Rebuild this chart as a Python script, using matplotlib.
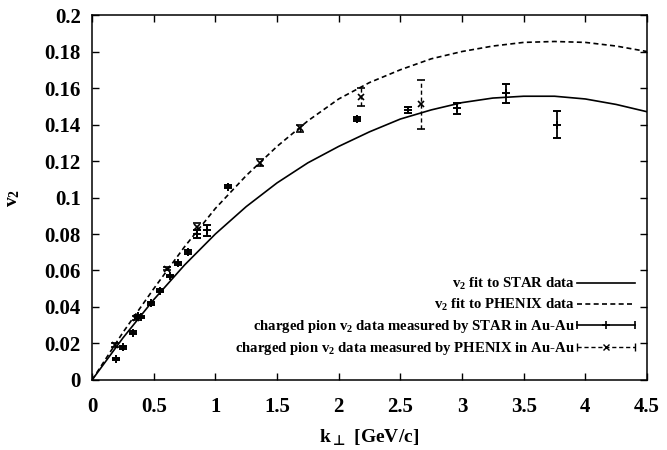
import matplotlib
matplotlib.use("Agg")
import matplotlib.pyplot as plt
from matplotlib.lines import Line2D
from matplotlib.legend_handler import HandlerLine2D

# Fit curves
fit_k = [0.0, 0.25, 0.5, 0.75, 1.0, 1.25, 1.5, 1.75, 2.0, 2.25, 2.5, 2.75,
         3.0, 3.25, 3.5, 3.75, 4.0, 4.25, 4.5]
star_fit = [0.0, 0.023, 0.044, 0.063, 0.080, 0.095, 0.108, 0.119, 0.128, 0.136,
            0.143, 0.148, 0.152, 0.1545, 0.1555, 0.1555, 0.154, 0.151, 0.147]
phenix_fit = [0.0, 0.026, 0.050, 0.073, 0.094, 0.112, 0.128, 0.142, 0.154, 0.163,
              0.170, 0.176, 0.180, 0.183, 0.185, 0.1855, 0.185, 0.183, 0.180]

# STAR data
star_k = [0.195, 0.25, 0.33, 0.37, 0.40, 0.48, 0.55, 0.63, 0.70, 0.78, 0.85, 0.93,
          1.10, 2.15, 2.56, 2.96, 3.36, 3.77]
star_v = [0.0115, 0.018, 0.026, 0.035, 0.0345, 0.042, 0.049, 0.057, 0.064, 0.070,
          0.080, 0.082, 0.106, 0.143, 0.148, 0.149, 0.157, 0.140]
star_err = [0.0008, 0.0008, 0.0008, 0.0008, 0.0008, 0.0008, 0.0008, 0.0008, 0.0008,
            0.001, 0.002, 0.003, 0.001, 0.001, 0.0015, 0.003, 0.005, 0.0075]

# PHENIX data
phenix_k = [0.19, 0.36, 0.61, 0.85, 1.36, 1.69, 2.18, 2.67]
phenix_v = [0.019, 0.034, 0.061, 0.084, 0.119, 0.138, 0.155, 0.151]
phenix_err = [0.001, 0.001, 0.001, 0.002, 0.002, 0.002, 0.005, 0.0135]

xticks = [0, 0.5, 1, 1.5, 2, 2.5, 3, 3.5, 4, 4.5]
xticklabels = ['0', '0.5', '1', '1.5', '2', '2.5', '3', '3.5', '4', '4.5']
yticks = [0, 0.02, 0.04, 0.06, 0.08, 0.1, 0.12, 0.14, 0.16, 0.18, 0.2]
yticklabels = ['0', '0.02', '0.04', '0.06', '0.08', '0.1', '0.12', '0.14', '0.16', '0.18', '0.2']

plt.rcParams['font.family'] = ['Liberation Serif', 'DejaVu Serif']
plt.rcParams['font.weight'] = 'bold'
plt.rcParams['mathtext.fontset'] = 'custom'
plt.rcParams['mathtext.rm'] = 'Liberation Serif:bold'
plt.rcParams['mathtext.it'] = 'Liberation Serif:bold'
plt.rcParams['mathtext.bf'] = 'Liberation Serif:bold'

fig = plt.figure(figsize=(6.67, 4.5), dpi=100)
ax = fig.add_axes([0.138, 0.1556, 0.832, 0.811])

dash = (0, (3, 2))
ax.plot(fit_k, star_fit, color='black', lw=1.2)
ax.plot(fit_k, phenix_fit, color='black', lw=1.2, linestyle=dash)
ax.errorbar(star_k, star_v, yerr=star_err, fmt='+', color='black', ms=6, mew=1.4,
            ecolor='black', elinewidth=1.3, capsize=3, capthick=1.3)
e2 = ax.errorbar(phenix_k, phenix_v, yerr=phenix_err, fmt='x', color='black', ms=5,
                 mew=1.2, ecolor='black', elinewidth=1.0, capsize=3, capthick=1.0)
e2[2][0].set_linestyle((0, (3, 2)))

ax.set_xlim(0, 4.5)
ax.set_ylim(0, 0.2)
ax.set_xticks(xticks)
ax.set_xticklabels(xticklabels)
ax.set_yticks(yticks)
ax.set_yticklabels(yticklabels)
ax.tick_params(direction='in', top=True, right=True, length=5, width=1,
               labelsize=15)
ax.tick_params(axis='y', pad=8)
ax.tick_params(axis='x', pad=12)
for lab in ax.get_xticklabels() + ax.get_yticklabels():
    lab.set_fontweight('bold')
for sp in ax.spines.values():
    sp.set_linewidth(1.1)

ax.set_xlabel(r'k$_\bot$ [GeV/c]', fontsize=14, fontweight='bold', labelpad=8,
              math_fontfamily='dejavusans')
ax.set_ylabel(r'v$_2$', fontsize=14, fontweight='bold', labelpad=16)

# legend handles (gnuplot style: sample line to the right of the text)
h1 = Line2D([], [], color='black', lw=1.2)
h2 = Line2D([], [], color='black', lw=1.2, linestyle=dash)
h3 = Line2D([], [], color='black', lw=1.2, marker='+', ms=6, mew=1.2)
h3c = Line2D([], [], color='black', linestyle='none', marker='|', ms=6, mew=1.2)
h4 = Line2D([], [], color='black', lw=1.0, linestyle=dash, marker='x', ms=5, mew=1.0)
h4c = Line2D([], [], color='black', linestyle='none', marker='|', ms=6, mew=1.0)
labels = [r'v$_2$ fit to STAR data', r'v$_2$ fit to PHENIX data',
          r'charged pion v$_2$ data measured by STAR in Au-Au',
          r'charged pion v$_2$ data measured by PHENIX in Au-Au']
leg = ax.legend(handles=[h1, h2, (h3, h3c), (h4, h4c)], labels=labels,
                loc='lower right', frameon=False, markerfirst=False, numpoints=1,
                fontsize=10.6, handlelength=3.95, handletextpad=0.12,
                labelspacing=0.34, borderpad=0, borderaxespad=0,
                bbox_to_anchor=(0.978, 0.062),
                handler_map={h3c: HandlerLine2D(numpoints=2, marker_pad=0),
                             h4c: HandlerLine2D(numpoints=2, marker_pad=0)})
for t in leg.get_texts():
    t.set_fontweight('bold')

fig.savefig('out.png', dpi=100)
